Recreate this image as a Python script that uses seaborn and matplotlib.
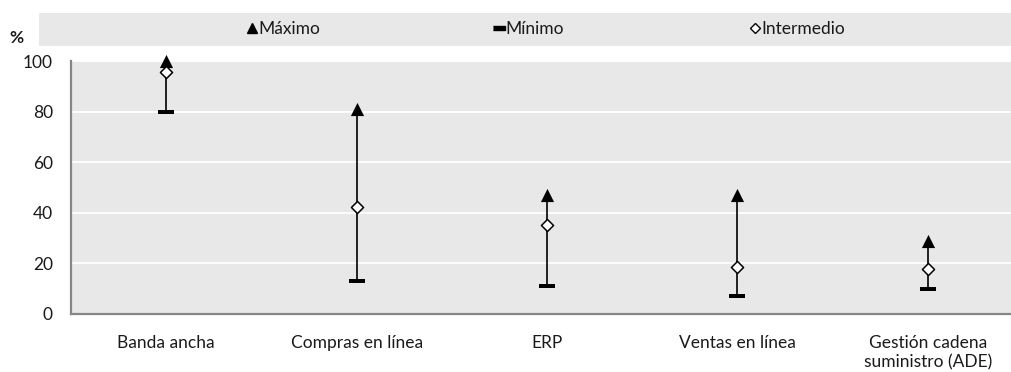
import pandas as pd
import numpy as np
import matplotlib
matplotlib.use("Agg")
import matplotlib.pyplot as plt
import seaborn as sns
from matplotlib.lines import Line2D
from matplotlib.patches import Rectangle

# Values (%)
categories = ["Banda ancha", "Compras en línea", "ERP", "Ventas en línea",
              "Gestión cadena\nsuministro (ADE)"]
maximo = [100, 81, 47, 47, 29]
minimo = [80, 13, 11, 7, 10]
intermedio = [95.5, 42.3, 35.2, 18.5, 17.9]
series_names = ["Máximo", "Mínimo", "Intermedio"]

df = pd.DataFrame({"cat": categories, "max": maximo, "min": minimo, "mid": intermedio})

sns.set_style("white")
plt.rcParams["font.family"] = ["Lato", "DejaVu Sans"]
FS = 12.5
TXT = "#1a1a1a"
AXC = "#868686"

fig = plt.figure(figsize=(10.11, 3.72), dpi=100)
ax = fig.add_axes([71 / 1011, 58 / 372, 952 / 1011, 253 / 372])
ax.set_facecolor("#e8e8e8")

# grey band behind the legend
fig.patches.append(Rectangle((39 / 1011, 1 - 46 / 372), 1.0, 33 / 372,
                             transform=fig.transFigure, facecolor="#e8e8e8",
                             edgecolor="none", zorder=0))

ax.vlines(df["cat"], df["min"], df["max"], color="black", linewidth=1.2, zorder=2)

bar = [(-1, -0.31), (1, -0.31), (1, 0.31), (-1, 0.31)]
sns.scatterplot(data=df, x="cat", y="max", marker="^", s=90, color="black",
                edgecolor="black", linewidth=0, ax=ax, zorder=3, clip_on=False)
sns.scatterplot(data=df, x="cat", y="min", marker=bar, s=117, color="black",
                edgecolor="black", linewidth=0, ax=ax, zorder=3, clip_on=False)
sns.scatterplot(data=df, x="cat", y="mid", marker="D", s=38, color="white",
                edgecolor="black", linewidth=1.1, ax=ax, zorder=4, clip_on=False)

ax.set_xlim(-0.5, len(categories) - 0.5)
ax.set_ylim(0, 100)
ax.set_yticks(range(0, 101, 20))
ax.yaxis.grid(True, color="white", linewidth=1.3)
ax.set_axisbelow(True)
ax.set_xlabel("")
ax.set_ylabel("")

ax.set_xticks(range(len(categories)))
ax.set_xticklabels(categories, fontsize=FS, color=TXT, linespacing=1.3)
ax.set_xticks(np.arange(-0.5, len(categories), 1), minor=True)
ax.tick_params(axis="x", which="major", length=0, pad=15)
ax.tick_params(axis="x", which="minor", length=5, color=AXC, width=1)
ax.tick_params(axis="y", length=6, color=AXC, width=1, labelsize=FS,
               labelcolor=TXT, pad=7)

for side in ["top", "right"]:
    ax.spines[side].set_visible(False)
for side in ["left", "bottom"]:
    ax.spines[side].set_color(AXC)
    ax.spines[side].set_linewidth(1.6)

fig.text(16 / 1011, 1 - 38 / 372, "%", fontsize=FS, fontweight="bold",
         ha="center", va="center", color=TXT)

handles = [
    Line2D([], [], marker="^", color="black", linestyle="none", markersize=7),
    Line2D([], [], marker=bar, color="black", linestyle="none", markersize=8.5),
    Line2D([], [], marker="D", markerfacecolor="white", markeredgecolor="black",
           markeredgewidth=1.0, linestyle="none", markersize=5.5),
]
legend_x = [247, 494, 750]
for h, name, lx in zip(handles, series_names, legend_x):
    leg = fig.legend([h], [name], loc="center left", frameon=False,
                     bbox_to_anchor=(lx / 1011, 1 - 29.5 / 372), fontsize=FS,
                     borderpad=0, borderaxespad=0, handlelength=0.6,
                     handletextpad=0.05)
    for t in leg.get_texts():
        t.set_color(TXT)

fig.savefig("out.png", dpi=100)
